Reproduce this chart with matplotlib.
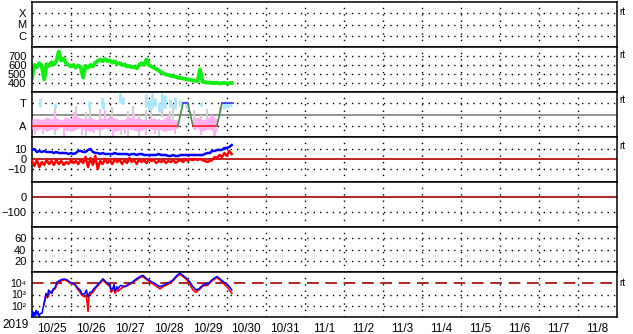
import numpy as np
import matplotlib
matplotlib.use("Agg")
import matplotlib.pyplot as plt

plt.rcParams['font.family'] = ['Liberation Sans', 'DejaVu Sans']

# x axis: days since 2019-10-25 00:00
day_labels = ['10/25', '10/26', '10/27', '10/28', '10/29', '10/30', '10/31',
              '11/1', '11/2', '11/3', '11/4', '11/5', '11/6', '11/7', '11/8']

# solar wind speed (km/s), every 1.5 h
speed = [460, 600, 575, 620, 590, 440, 610, 590, 630, 605, 640, 750, 650, 670, 620,
         600, 585, 600, 570, 595, 575, 460, 590, 570, 600, 585, 625, 645, 660, 640,
         665, 645, 650, 625, 640, 615, 620, 600, 605, 585, 590, 575, 580, 565, 600,
         620, 600, 660, 600, 585, 570, 555, 540, 520, 505, 495, 490, 480, 475, 470,
         460, 455, 450, 445, 440, 435, 430, 425, 420, 550, 415, 410, 405, 405, 400,
         398, 402, 396, 398, 400, 395, 398, 400]

# IMF Bt and Bz (nT), every 1.5 h
bt = [9, 10, 7, 8, 7, 8, 7, 7, 7, 6,
      7, 6, 6, 6, 6, 5, 6, 5, 6, 8,
      8, 7, 7, 9, 10, 7, 6, 6, 5, 6,
      5, 5, 5, 5, 6, 5, 5, 5, 5, 5,
      4, 5, 5, 4, 5, 5, 4, 4, 4, 4,
      4, 4, 5, 4, 4, 4, 3, 3, 4, 3,
      3, 4, 4, 4, 4, 4, 4, 4, 4, 4,
      4, 5, 6, 6, 8, 8, 9, 9, 9, 11,
      11, 12, 14]
bz = [-2, -7, -1, -8, -3, -6, -1, -5, -2, -6,
      -1, -5, -2, -6, -3, -5, -1, -4, -2, -5,
      -1, -4, 2, -8, 1, -6, 3, -10, -2, -5,
      0, -4, -1, -5, 0, -3, -1, -5, -1, -4,
      1, -3, -1, -5, 0, -3, -1, -4, 0, -2,
      -1, -4, -2, -3, -1, -4, -2, -3, -1, -4,
      -2, -1, -3, 0, -2, 0, -1, 0, -1, 0,
      -1, -2, -3, -2, -1, 2, 1, 4, 2, 6,
      3, 8, 5]

# magnetic sector status (1 = A, 3 = T)
state_h = [0, 89.9, 93.0, 96.0, 99.1, 113.9, 117.0, 123.8]
state_v = [1, 1, 3, 3, 1, 1, 3, 3]

# pink band (A side)
pink_h = [0, 3, 6, 9, 12, 15, 18, 21, 24, 27, 30, 33, 36, 39, 42, 45, 48, 51, 54, 57,
          60, 63, 66, 69, 72, 75, 78, 81, 84, 87, 90]
pink_lo = [0.7, 0.6, 0.8, 0.5, 0.7, 0.6, 0.9, 0.6, 0.5, 0.7, 0.8, 0.6, 0.5, 0.7, 0.6, 0.8,
           0.7, 0.5, 0.6, 0.8, 0.7, 0.6, 0.5, 0.7, 0.8, 0.6, 0.7, 0.5, 0.6, 0.7, 0.8]
pink_hi = [1.6, 1.7, 1.5, 1.8, 1.6, 1.7, 1.5, 1.8, 1.6, 1.9, 1.7, 1.6, 1.8, 1.5, 1.7, 1.6,
           1.8, 1.7, 1.5, 1.6, 1.8, 1.6, 1.7, 1.5, 1.6, 1.7, 1.5, 1.6, 1.8, 1.5, 1.6]
pink2_h = [99, 102, 105, 108, 111, 114]
pink2_lo = [0.6, 0.8, 0.5, 0.7, 0.6, 0.4]
pink2_hi = [1.6, 1.8, 1.5, 1.7, 1.9, 1.6]
pink_sp_h = [2, 7, 14, 20, 26, 31, 38, 45, 50, 57, 63, 70, 76, 84, 88, 104, 110, 113]
pink_sp_lo = [0.2, 0.3, 1.2, 0.1, 1.5, 0.2, 0.4, 1.4, 0.1, 0.3, 1.5, 0.2, 0.3, 1.6, 0.3, 0.2, 1.5, 0.1]
pink_sp_hi = [1.0, 1.2, 2.3, 0.8, 2.2, 1.0, 1.0, 2.4, 0.9, 0.8, 2.1, 0.9, 1.0, 2.0, 1.0, 1.1, 2.0, 0.9]

gray_h = [14, 20, 27, 33, 36, 42, 49, 55, 59, 62, 66, 70, 73, 78, 80, 85, 87, 100, 104, 108, 112]
gray_lo = [0.2, 0.0, 1.0, 0.1, 1.2, 0.1, 1.0, 0.2, 0.0, 1.3, 0.1, 1.0, 1.5, 0.0, 1.8, 0.5, 1.2, 1.2, 0.4, 1.5, 0.1]
gray_hi = [2.6, 1.3, 2.8, 2.2, 3.0, 2.5, 2.7, 1.5, 2.3, 2.8, 2.0, 2.4, 2.6, 1.6, 2.6, 2.3, 2.9, 2.4, 2.0, 2.5, 1.0]

cyan_h = [5, 14, 35, 43, 44, 54, 56, 70, 72, 74, 76, 78, 80, 82, 85, 88, 91, 95, 104, 116, 118, 120, 122]
cyan_lo = [2.7, 2.6, 2.7, 2.8, 2.5, 3.0, 2.9, 2.7, 2.4, 2.6, 2.8, 2.2, 2.5, 2.6, 2.7, 2.5, 2.8, 2.6, 2.8, 2.3, 2.5, 2.6, 2.7]
cyan_hi = [3.5, 3.0, 3.2, 3.6, 3.1, 3.9, 3.6, 3.8, 3.3, 3.9, 3.5, 3.1, 3.9, 3.7, 3.4, 3.6, 3.3, 3.2, 3.1, 2.8, 3.0, 3.1, 3.1]

# electron flux (log10), two channels
flux_b_h = [0.3, 0.6, 1.2, 1.8, 2.4, 3.1, 3.7, 4.3, 5.0, 6.2, 7.4, 8.0, 8.6, 9.5, 10.2,
            11.1, 12.3, 13.0, 14.2, 15.4, 16.5, 18.5, 20.3, 21.5, 23.4, 25.0, 26.5,
            28.0, 29.6, 31.0, 32.6, 33.5, 34.5, 35.7, 36.9, 38.0, 39.4, 41.9, 43.7,
            45.6, 48.0, 48.8, 49.9, 50.5, 51.1, 52.3, 53.0, 54.5, 56.0, 57.5, 59.1,
            61.0, 63.4, 66.5, 68.3, 70.8, 73.9, 75.5, 77.0, 78.8, 80.7, 83.7, 86.8,
            89.3, 91.1, 93.0, 95.4, 97.3, 99.1, 101.0, 102.8, 105.3, 108.4, 110.8,
            113.9, 115.7, 118.2, 120.7, 123.1]
flux_b = [1.5, 1.0, 1.4, 1.1, 1.6, 1.2, 1.5, 1.0, 1.3, 1.35, 2.2, 2.6, 3.1, 2.8, 3.4,
          3.25, 3.1, 3.5, 3.6, 4.1, 4.2, 4.35, 4.37, 4.3, 4.1, 4.0, 3.9, 3.6, 3.4,
          3.0, 3.1, 3.4, 2.8, 3.2, 3.25, 3.5, 3.7, 4.1, 4.4, 4.1, 3.85, 3.4, 3.55,
          3.9, 3.3, 3.7, 3.5, 3.8, 3.75, 3.7, 3.9, 4.0, 4.3, 4.6, 4.7, 4.4, 4.1,
          4.0, 3.85, 3.7, 3.8, 4.0, 4.3, 4.7, 4.9, 4.7, 4.4, 4.1, 3.7, 3.4, 3.5,
          3.85, 3.95, 4.3, 4.6, 4.4, 4.1, 3.85, 3.4]
flux_r_h = [7.4, 8.6, 9.5, 11.1, 12.3, 14.2, 15.4, 16.5, 18.5, 20.3, 23.4, 26.5, 28.0,
            29.6, 31.0, 32.6, 33.5, 34.5, 35.2, 36.9, 38.0, 39.4, 41.9, 43.7, 45.6,
            48.0, 48.8, 49.9, 50.5, 51.1, 52.3, 53.0, 56.0, 59.1, 63.4, 66.5, 68.3,
            70.8, 73.9, 77.0, 78.8, 80.7, 83.7, 86.8, 89.3, 91.1, 93.0, 95.4, 97.3,
            99.1, 101.0, 102.8, 105.3, 108.4, 110.8, 113.9, 115.7, 118.2, 120.7, 123.1]
flux_r = [2.1, 3.0, 2.7, 3.2, 3.3, 3.5, 3.9, 4.1, 4.25, 4.3, 4.05, 3.85, 3.5, 3.2,
          2.9, 2.8, 3.0, 1.5, 3.0, 3.1, 3.3, 3.6, 4.0, 4.3, 4.0, 3.7, 3.2, 3.4, 3.8,
          3.1, 3.5, 3.3, 3.65, 3.8, 4.2, 4.5, 4.6, 4.3, 4.0, 3.7, 3.5, 3.7, 3.9,
          4.2, 4.6, 4.8, 4.6, 4.3, 3.9, 3.4, 3.2, 3.4, 3.75, 3.85, 4.2, 4.5, 4.3,
          3.95, 3.6, 3.1]

step_days = np.arange(len(speed)) * 1.5 / 24

W, H = 633, 334
fig = plt.figure(figsize=(W / 100, H / 100), dpi=100)
left, right = 32, 616.5
top, ph = 2, 45
grid_kw = dict(color='black', linestyle=(0, (1, 3.6)), linewidth=1.0)

axes = []
for i in range(7):
    y0 = top + i * ph
    ax = fig.add_axes([left / W, 1 - (y0 + ph) / H, (right - left) / W, ph / H])
    ax.set_xlim(0, 15)
    for s in ax.spines.values():
        s.set_linewidth(1.1)
    ax.tick_params(length=0, labelsize=8, pad=4)
    ax.set_xticks(np.arange(1, 15))
    ax.set_xticklabels([])
    for d in range(1, 15):
        ax.axvline(d, **grid_kw, zorder=0)
    axes.append(ax)

def hgrid(ax, vals):
    for v in vals:
        ax.axhline(v, **grid_kw, zorder=0)

# panel 1: X-ray class
ax = axes[0]
ax.set_ylim(0, 4)
ax.set_yticks([1, 2, 3])
ax.set_yticklabels(['C', 'M', 'X'])
hgrid(ax, [1, 2, 3])

# panel 2: speed
ax = axes[1]
ax.set_ylim(300, 800)
ax.set_yticks([400, 500, 600, 700])
hgrid(ax, [400, 500, 600, 700])
ax.plot(step_days, speed, color='#11ee11', lw=2.8)

# panel 3: sector
ax = axes[2]
ax.set_ylim(0, 4)
ax.set_yticks([1, 3])
ax.set_yticklabels(['A', 'T'])
hgrid(ax, [1, 3])
ax.axhline(2, color='#808080', lw=1.2, zorder=1)
ax.vlines(np.array(gray_h) / 24, gray_lo, gray_hi, color='#d0d0d0', lw=1.5, zorder=2)
ax.fill_between(np.array(pink_h) / 24, pink_lo, pink_hi, color='#ffb0f0', lw=0, zorder=3)
ax.fill_between(np.array(pink2_h) / 24, pink2_lo, pink2_hi, color='#ffb0f0', lw=0, zorder=3)
ax.vlines(np.array(pink_sp_h) / 24, pink_sp_lo, pink_sp_hi, color='#ffb0f0', lw=1.5, zorder=3)
ax.vlines(np.array(cyan_h) / 24, cyan_lo, cyan_hi, color='#a8e8ff', lw=2, zorder=3)
for k in range(len(state_h) - 1):
    a, b = state_v[k], state_v[k + 1]
    c = '#ff2020' if a == b == 1 else ('#3333ff' if a == b == 3 else '#4a8a4a')
    ax.plot(np.array(state_h[k:k + 2]) / 24, state_v[k:k + 2], color=c, lw=1.2, zorder=4)

# panel 4: IMF
ax = axes[3]
ax.set_ylim(-23, 22)
ax.set_yticks([-10, 0, 10])
hgrid(ax, [-10, 10])
ax.axhline(0, color='#b00000', lw=1.2, zorder=1)
ax.plot(step_days, bz, color='#ff0000', lw=1.8, zorder=3)
ax.plot(step_days, bt, color='#0000ff', lw=1.8, zorder=4)

# panel 5: Dst
ax = axes[4]
ax.set_ylim(-200, 100)
ax.set_yticks([-100, 0])
hgrid(ax, [-100])
ax.axhline(0, color='#a00000', lw=1.2)

# panel 6
ax = axes[5]
ax.set_ylim(0, 80)
ax.set_yticks([20, 40, 60])
hgrid(ax, [20, 40, 60])

# panel 7: electron flux
ax = axes[6]
ax.set_yscale('log')
ax.set_ylim(1e1, 1e5)
ax.set_yticks([1e2, 1e3, 1e4])
ax.set_yticklabels(['10\u00b2', '10\u00b3', '10\u2074'])
ax.minorticks_off()
ax.set_xticks(np.arange(1, 15))
ax.tick_params(axis='y', labelsize=7.5, pad=4)
hgrid(ax, [1e2, 1e3])
ax.axhline(1e4, color='#a00000', lw=1.2, dashes=(7, 4), zorder=1)
ax.plot(np.array(flux_r_h) / 24, 10 ** np.array(flux_r), color='#ff0000', lw=1.2, zorder=3)
ax.plot(np.array(flux_b_h) / 24, 10 ** np.array(flux_b), color='#0000ff', lw=1.1, zorder=4)
ax.set_xticks(np.arange(0.5, 15), minor=True)
ax.set_xticklabels(day_labels, minor=True)
ax.tick_params(axis='x', which='minor', length=0, labelsize=8.5, pad=4)

fig.text(2 / W, 1 - 325 / H, '2019', fontsize=8.5, va='center', ha='left')
for yy in [12, 55, 100, 146, 283]:
    fig.text(619 / W, 1 - yy / H, 'rt', fontsize=7, va='center', ha='left')

fig.savefig('out.png', dpi=100)
